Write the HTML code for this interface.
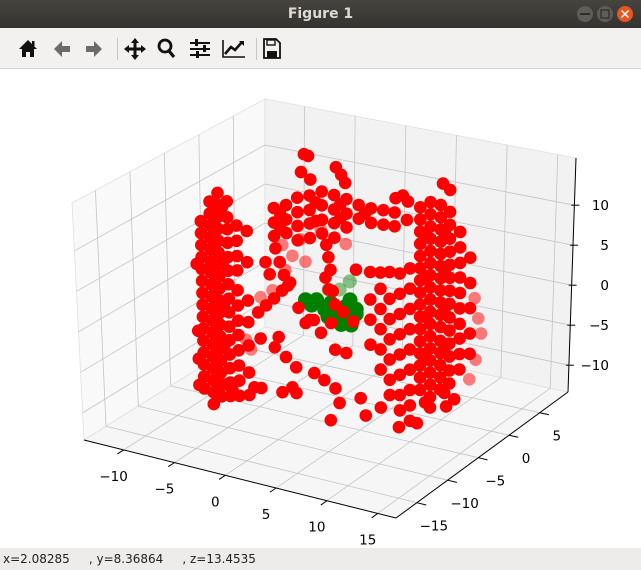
<!DOCTYPE html>
<html><head><meta charset="utf-8"><style>
html,body{margin:0;padding:0;width:641px;height:570px;overflow:hidden;background:#fff;font-family:"DejaVu Sans","Liberation Sans",sans-serif}
#win{position:relative;width:641px;height:570px}
#titlebar{position:absolute;left:0;top:0;width:641px;height:28px;background:linear-gradient(#45443f,#34332f);color:#dfdbd2;font-weight:bold;font-size:14px;text-align:center;line-height:28px}
#toolbar{position:absolute;left:0;top:28px;width:641px;height:40px;background:#f2f1f0;border-bottom:1px solid #d6d4d0}
#status{position:absolute;left:0;top:548px;width:641px;height:22px;background:#edecea;font-size:12px;color:#222;line-height:22px;white-space:pre;padding-left:3px;box-sizing:border-box}
svg{position:absolute;left:0;top:0}
</style></head><body>
<div id="win">
<div id="titlebar">Figure 1</div>
<svg width="641" height="28">
<circle cx="585" cy="14" r="8" fill="#5e5d58"/>
<rect x="580" y="13" width="10" height="2" fill="#2e2d2a"/>
<circle cx="605" cy="14" r="8" fill="#5e5d58"/>
<rect x="601" y="10" width="8" height="8" fill="none" stroke="#2e2d2a" stroke-width="1.3"/>
<circle cx="625" cy="14" r="8" fill="#e9541f"/>
<path d="M621.5 10.5l7 7M628.5 10.5l-7 7" stroke="#fff" stroke-width="1.5"/>
</svg>
<div id="toolbar"></div>
<svg width="641" height="70" style="top:0">
<g><path d="M19 49l9-9 9 9h-3v8h-4v-5h-4v5h-4v-8z" fill="#111"/><rect x="32" y="41" width="2.5" height="5" fill="#111"/></g>
<g><path d="M54 49l8-8v5h8v6h-8v5z" fill="#6b6b6b"/></g>
<g><path d="M102 49l-8-8v5h-8v6h8v5z" fill="#6b6b6b"/></g>
<rect x="117" y="38" width="1" height="22" fill="#c8c6c2"/>
<g><path d="M135 38l4 5h-2.5v4.5h4.5v-2.5l5 4-5 4v-2.5h-4.5v4.5h2.5l-4 5-4-5h2.5v-4.5h-4.5v2.5l-5-4 5-4v2.5h4.5v-4.5h-2.5z" fill="#111"/></g>
<g><circle cx="165" cy="46" r="6" fill="none" stroke="#111" stroke-width="2.8"/><path d="M169 51l5 6" stroke="#111" stroke-width="3.2"/></g>
<g fill="#111"><rect x="190" y="42" width="20" height="2"/><rect x="190" y="48" width="20" height="2"/><rect x="190" y="54" width="20" height="2"/><rect x="195" y="39" width="3" height="7"/><rect x="203" y="45" width="3" height="7"/><rect x="196" y="51" width="3" height="7"/></g>
<g><path d="M223 40v17h22" fill="none" stroke="#111" stroke-width="1.6"/><path d="M225 54l6-7 4 3 7-8" fill="none" stroke="#111" stroke-width="2.6"/><path d="M239 41h5v5z" fill="#111"/></g>
<rect x="256" y="38" width="1" height="22" fill="#c8c6c2"/>
<g><path d="M264 39h12l4 4v15h-16z" fill="none" stroke="#111" stroke-width="1.8"/><rect x="267" y="40" width="8" height="5" fill="none" stroke="#111" stroke-width="1.4"/><rect x="267" y="51" width="10" height="7" fill="#111"/></g>
</svg>
<svg id="plot" width="641" height="570"></svg>
<div id="status">x=2.08285     , y=8.36864     , z=13.4535</div>
</div>
<script>
// ---- data (x, y, z in data units) ----
const xTicks = [-10, -5, 0, 5, 10, 15];
const yTicks = [-15, -10, -5, 0, 5];
const zTicks = [-10, -5, 0, 5, 10];
const xTickLabels = ["\u221210", "\u22125", "0", "5", "10", "15"];
const yTickLabels = ["\u221215", "\u221210", "\u22125", "0", "5"];
const zTickLabels = ["\u221210", "\u22125", "0", "5", "10"];

// left wall (y = -4.4), columns of x with z values
const leftWallY = -4.4;
const leftWallX = [-10.9, -11.4, -10.0, -9.2, -8.3, -7.4, -6.4, -9.6, -8.8];
const leftWallZ = [
 [7.9,6.4,4.9,3.4,1.9,0.4,-1.1,-2.6,-4.1,-5.6,-7.1,-8.6,-10.1,-11.6,-13.1],
 [2.4,-6.0,-12.8,-9.5],
 [10.6,9.1,7.6,6.1,4.6,3.1,1.7,0.2,-1.3,-2.8,-4.3,-5.8,-7.3,-8.8,-10.3,-11.8,-13.3,-14.8],
 [11.9,10.4,8.9,7.4,5.9,4.4,2.9,1.4,-0.1,-1.6,-3.1,-4.6,-6.1,-7.6,-9.1,-10.6,-12.1,-13.6],
 [11.1,9.1,7.6,5.9,4.1,2.4,0.7,-1.1,-2.8,-4.6,-6.3,-8.1,-9.8,-11.6,-13.3],
 [8.3,6.4,4.5,2.7,0.2,-1.7,-3.6,-5.4,-7.3,-9.2,-11.1,-13.0],
 [7.9,4.0,-0.8,-6.4,-12.6,-3.5,-9.8],
 [9.8,5.2,0.9,-3.9,-8.2,-12.8],
 [10.2,3.3,-2.0,-7.0,-12.0]
];
// top band
const topBandY = -4.4;
const topBandX = [-3.7,-2.5,-1.4,-0.2,1.0,2.2,3.4,4.6,5.8,7.0,8.1,9.3,-3.1,0.4,2.8,5.2];
const topBandZ = [
 [11.5,9.7,8.0],[12.2,10.4,8.7],[13.4,11.6,9.9,8.1],[14.0,12.2,10.5,8.7],
 [14.8,13.1,11.3,9.6],[14.7,12.9,11.2,9.4],[14.5,12.7,11.0],[14.1,12.4],
 [14.0,12.2],[14.1,12.3],[14.1,12.4],[13.5],
 [11.0,9.2],[13.3,11.0],[13.7,12.0],[13.2]
];
// right wall
const rightWallY = -4.4;
const rightWallX = [10.6, 11.6, 12.6, 13.5, 14.5, 15.5, 11.1, 13.0];
const rightWallZ = [
 [15.4,13.9,12.4,10.9,9.4,7.9,6.4,4.9,3.4,1.9,0.4,-1.1,-2.6,-4.1,-5.6,-7.1],
 [16.3,14.8,13.3,11.8,10.3,8.8,7.3,5.8,4.3,2.8,1.3,-0.2,-1.7,-3.2,-4.7,-6.2,-7.7],
 [16.2,14.7,13.2,11.7,10.2,8.7,7.2,5.7,4.2,2.7,1.2,-0.5,-2.0,-3.5,-5.0,-6.5],
 [15.6,14.0,12.3,10.7,9.1,7.5,5.9,4.3,2.6,1.0,-0.6,-2.2,-3.9,-5.5],
 [13.4,11.5,9.6,7.8,5.9,4.0,2.1,0.3,-1.6,-3.5],
 [10.5,7.4,4.3,1.2,-1.3],
 [12.0,7.0,2.0,-3.0,-8.5],
 [13.0,8.0,3.5,-1.3,-6.8]
];
// middle-right cluster
const midRightY = -4.4;
const midRightX = [5.7, 6.7, 7.6, 8.6, 9.6];
const midRightZ = [
 [6.1,2.7,0.2,-2.9],
 [6.3,4.3,1.8,-0.7,-3.2,-5.7],
 [6.6,3.3,0.8,-1.7,-4.2,-6.7,-8.6],
 [6.7,4.2,1.7,-0.8,-3.3,-5.8,-8.3,-10.2],
 [7.6,5.1,2.6,0.1,-2.4,-4.9,-7.4,-9.3,-11.2]
];
// scattered red points (front)
const looseRedX = [-0.7,-0.3,-1.0,-0.1,2.4,2.9,3.3,8.9,9.4,8.2,12.8,13.5,
 1.4,1.6,1.8,-3.6,-3.2,-2.8,-2.4,-4.6,-4.2,
 -5.4,-4.6,-3.8,-3.0,-2.2,
 2.2,3.0,1.8,4.0,-0.3,-1.4,2.0,1.3,1.6,4.3,
 -5.2,-3.4,-3.8,-2.7,-1.7,-2.1,-1.7,-5.2,-3.1,0.1,1.1,2.2,2.6,1.7,2.2,3.3,0.8,0.1,-0.7,-5.9,-8.1,
 8.5,10.3,6.7,13.2,14.0,11.6,4.7,5.2];
const looseRedZ = [19.0,18.9,16.7,16.0,18.2,17.4,16.5,16.4,15.8,15.9,18.9,18.3,
 8.3,6.8,5.3,6.5,4.9,3.4,2.2,4.5,3.1,
 -2.0,-0.9,0.2,1.4,2.6,
 1.1,0.4,-1.3,-0.5,-1.5,-0.3,2.7,4.2,2.8,6.0,
 -5.2,-4.5,-5.9,-6.8,-7.8,-10.4,-11.0,-11.4,-11.3,-8.0,-8.6,-9.3,-11.0,-13.4,-4.5,-4.6,-2.8,-1.4,-2.0,-11.5,-12.5,
 -12.3,-11.3,-10.4,-8.4,-7.3,-9.0,-9.8,-11.8];
const looseRedY = -4.4;
// background (depth-shaded) red points
const backRedY = 3.0;
const backRedX = [11.7,12.0,11.5,11.3,10.9,-7.8,-6.8,-6.0,-7.5,-5.5,-10.0,-8.8,-4.0,-1.5,-11.5,-11.0];
const backRedZ = [-1.9,-3.7,-7.1,0.5,-9.7,2.1,1.0,3.3,-1.0,0.6,-5.1,-3.9,5.1,3.9,-10.9,-12.0];
// green cluster
const greenX = [-0.7,0.4,1.8,3.3,4.3,2.2,3.3,4.3,2.7,1.2,-0.1,3.7,2.8,3.8,1.5];
const greenZ = [0.9,1.2,1.2,1.2,1.1,-0.4,-0.5,0.5,0.4,0.2,0.4,2.1,-1.2,-1.0,-0.6];
const greenY = -4.4;
const backGreenX = [-2.1,-1.1,-3.2];
const backGreenZ = [-2.0,-0.7,-2.3];
const backGreenY = 3.0;

// ---- axes geometry ----
const XMIN=-13.9, XMAX=16.8, YMIN=-18.4, YMAX=9.6, ZMIN=-13.35, ZMAX=15.9;
const C = {'000':[84,440],'100':[396,518],'110':[568,392],'010':[265,327],
           '001':[72,203],'101':[392,275],'111':[576,158],'011':[265,99]};
function tri(u,v,w){
  const r=[0,0];
  for(const a of [0,1])for(const b of [0,1])for(const c of [0,1]){
    const f=(a?u:1-u)*(b?v:1-v)*(c?w:1-w);
    const p=C[''+a+b+c]; r[0]+=f*p[0]; r[1]+=f*p[1];
  }
  return r;
}
function U(x){return (x-XMIN)/(XMAX-XMIN);}
function V(y){return (y-YMIN)/(YMAX-YMIN);}
function W(z){return (z-ZMIN)/(ZMAX-ZMIN);}
function P(x,y,z){return tri(U(x),V(y),W(z));}

const NS='http://www.w3.org/2000/svg';
const svg=document.getElementById('plot');
function mk(tag,attrs,parent){const e=document.createElementNS(NS,tag);for(const k in attrs)e.setAttribute(k,attrs[k]);(parent||svg).appendChild(e);return e;}
function poly(pts){return pts.map(p=>p[0].toFixed(1)+','+p[1].toFixed(1)).join(' ');}

// panes
const paneL=mk('polygon',{points:poly([tri(0,0,0),tri(0,1,0),tri(0,1,1),tri(0,0,1)]),fill:'#f9f9f9',stroke:'#e0e0e0','stroke-width':0.8});


const paneR=mk('polygon',{points:poly([tri(0,1,0),tri(1,1,0),tri(1,1,1),tri(0,1,1)]),fill:'#f2f2f2',stroke:'#e0e0e0','stroke-width':0.8});


const paneF=mk('polygon',{points:poly([tri(0,0,0),tri(1,0,0),tri(1,1,0),tri(0,1,0)]),fill:'#f6f6f6',stroke:'#e0e0e0','stroke-width':0.8});



// gridlines
const grid=mk('g',{stroke:'#c4c4c4','stroke-width':0.8,fill:'none'});


function line(a,b,parent,attrs){return mk('line',Object.assign({x1:a[0],y1:a[1],x2:b[0],y2:b[1]},attrs||{}),parent);}
xTicks.forEach(t=>{const u=U(t);
  const l1=line(tri(u,0,0),tri(u,1,0),grid);
  const l2=line(tri(u,1,0),tri(u,1,1),grid);});
yTicks.forEach(t=>{const v=V(t);
  const l1=line(tri(0,v,0),tri(1,v,0),grid);
  const l2=line(tri(0,v,0),tri(0,v,1),grid);});
zTicks.forEach(t=>{const w=W(t);
  const l1=line(tri(0,0,w),tri(0,1,w),grid);
  const l2=line(tri(0,1,w),tri(1,1,w),grid);});

// axis lines
const ax=mk('g',{stroke:'#000','stroke-width':1,fill:'none'});


const xl=line(tri(0,0,0),tri(1,0,0),ax);
const yl=line(tri(1,0,0),tri(1,1,0),ax);
const zl=line(tri(1,1,0),tri(1,1,1),ax);

// ticks + labels
const lab=mk('g',{'font-family':'DejaVu Sans, Liberation Sans, sans-serif','font-size':'13.5px',fill:'#000'});


xTicks.forEach((t,i)=>{const u=U(t);const p=tri(u,0,0);const q=tri(u,-0.035,0);
  const tk=line(p,q,ax);
  const tx=mk('text',{x:p[0]-10,y:p[1]+31,'text-anchor':'middle'},lab);tx.textContent=xTickLabels[i];
  
  });
yTicks.forEach((t,i)=>{const v=V(t);const p=tri(1,v,0);const q=tri(1.03,v,0);
  const tk=line(p,q,ax);
  const tx=mk('text',{x:p[0]+17,y:p[1]+28,'text-anchor':'middle'},lab);tx.textContent=yTickLabels[i];
  
  });
zTicks.forEach((t,i)=>{const w=W(t);const p=tri(1,1,w);
  const tk=line([p[0]-3,p[1]],[p[0]+5,p[1]],ax);
  const tx=mk('text',{x:609,y:p[1]+5,'text-anchor':'end'},lab);tx.textContent=zTickLabels[i];
  
  });

// points
const pts=mk('g',{});


function dot(x,y,z,color,alpha,name,r){
  const p=P(x,y,z);
  const c=mk('circle',{cx:p[0].toFixed(1),cy:p[1].toFixed(1),r:r||6.3,fill:color,'fill-opacity':alpha},pts);
  
  
}
// background (faded) first
backGreenX.forEach((x,i)=>dot(x,backGreenY,backGreenZ[i],'#008000',0.45,'green-point',7));
backRedX.forEach((x,i)=>dot(x,backRedY,backRedZ[i],'#ff0000',0.5,'red-point'));
greenX.forEach((x,i)=>dot(x,greenY,greenZ[i],'#008000',1,'green-point',7.5));
function cols(X,Z,y){X.forEach((x,i)=>Z[i].forEach(z=>dot(x,y,z,'#ff0000',1,'red-point')));}
cols(leftWallX,leftWallZ,leftWallY);
cols(topBandX,topBandZ,topBandY);
cols(rightWallX,rightWallZ,rightWallY);
cols(midRightX,midRightZ,midRightY);
looseRedX.forEach((x,i)=>dot(x,looseRedY,looseRedZ[i],'#ff0000',1,'red-point'));
</script>
</body></html>
